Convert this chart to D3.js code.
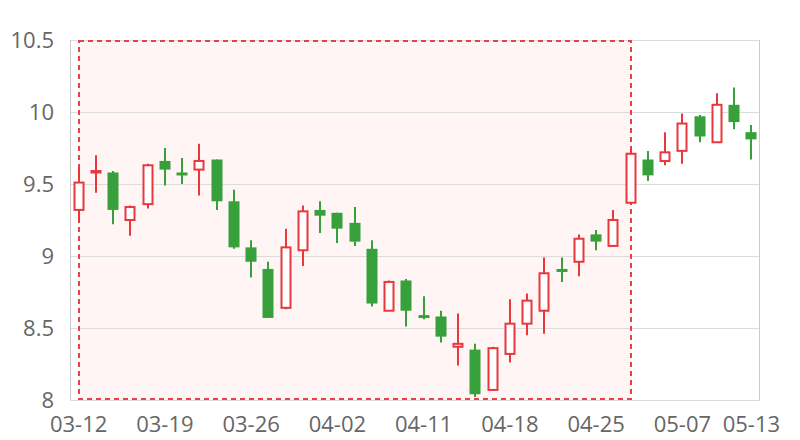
<!DOCTYPE html>
<html><head><meta charset="utf-8">
<script src="https://cdn.jsdelivr.net/npm/d3@7"></script>
<style>html,body{margin:0;padding:0;background:#fff;}svg{display:block;}</style>
</head><body>
<script>
const dates = ["03-12","03-13","03-14","03-15","03-16","03-19","03-20","03-21","03-22","03-23",
  "03-26","03-27","03-28","03-29","03-30","04-02","04-03","04-04","04-09","04-10",
  "04-11","04-12","04-13","04-16","04-17","04-18","04-19","04-20","04-23","04-24",
  "04-25","04-26","04-27","05-03","05-04","05-07","05-08","05-09","05-10","05-13"];
const openV  = [9.32,9.58,9.58,9.25,9.36,9.66,9.58,9.60,9.67,9.38,
  9.06,8.91,8.64,9.04,9.32,9.30,9.23,9.05,8.62,8.83,
  8.59,8.58,8.37,8.35,8.07,8.32,8.53,8.62,8.91,8.96,
  9.15,9.07,9.37,9.67,9.66,9.73,9.97,9.79,10.05,9.86];
const closeV = [9.51,9.59,9.32,9.34,9.63,9.60,9.57,9.66,9.38,9.06,
  8.96,8.57,9.06,9.31,9.28,9.19,9.10,8.67,8.82,8.62,
  8.58,8.44,8.39,8.04,8.36,8.53,8.69,8.88,8.90,9.12,
  9.10,9.25,9.71,9.56,9.72,9.92,9.83,10.05,9.93,9.81];
const lowV   = [9.24,9.44,9.22,9.14,9.33,9.49,9.50,9.42,9.32,9.05,
  8.85,8.57,8.63,8.93,9.16,9.09,9.07,8.65,8.62,8.51,
  8.56,8.40,8.24,8.02,8.07,8.26,8.45,8.46,8.82,8.86,
  9.04,9.07,9.36,9.52,9.63,9.64,9.79,9.79,9.88,9.67];
const highV  = [9.62,9.70,9.59,9.35,9.64,9.75,9.68,9.78,9.67,9.46,
  9.11,8.96,9.19,9.35,9.38,9.30,9.34,9.11,8.83,8.84,
  8.72,8.62,8.60,8.39,8.37,8.70,8.74,8.99,8.99,9.15,
  9.18,9.32,9.75,9.73,9.86,9.99,9.98,10.13,10.17,9.91];
const yTicks = [8,8.5,9,9.5,10,10.5];
const tickLabels = ["03-12","03-19","03-26","04-02","04-11","04-18","04-25","05-07","05-13"];
const markStart = "03-12", markEnd = "04-27";

(function () {
const W = 800, H = 440;
const pL = 70, pR = 760, pT = 40, pB = 400;
const svg = d3.select("body").append("svg").attr("width", W).attr("height", H);
const x = d3.scaleBand().domain(dates).range([pL, pR]).padding(0);
const y = d3.scaleLinear().domain([8, 10.5]).range([pB, pT]);
const cx = d => x(d) + x.bandwidth() / 2;
const font = "'Open Sans', 'Noto Sans', sans-serif";

const mx0 = Math.round(cx(markStart)), mx1 = Math.round(cx(markEnd));
svg.append("rect").attr("x", mx0).attr("y", pT).attr("width", mx1 - mx0).attr("height", pB - pT)
  .attr("fill", "#fff5f5");

svg.append("g").selectAll("line").data(yTicks).join("line")
  .attr("x1", pL).attr("x2", pR).attr("y1", d => y(d)).attr("y2", d => y(d))
  .attr("stroke", "#dcdcdc").attr("stroke-width", 1).attr("shape-rendering", "crispEdges");
svg.append("line").attr("x1", pL + 0.5).attr("x2", pL + 0.5).attr("y1", pT).attr("y2", pB)
  .attr("stroke", "#cccccc");
svg.append("line").attr("x1", pR - 0.5).attr("x2", pR - 0.5).attr("y1", pT).attr("y2", pB)
  .attr("stroke", "#cccccc");

svg.append("rect").attr("x", mx0).attr("y", pT + 1).attr("width", mx1 - mx0).attr("height", pB - pT - 2)
  .attr("fill", "none").attr("stroke", "#e64248").attr("stroke-width", 2).attr("stroke-dasharray", "5,4");

const yAxis = d3.axisLeft(y).tickValues(yTicks).tickSize(0).tickPadding(16).tickFormat(d3.format("~g"));
const gy = svg.append("g").attr("transform", `translate(${pL},0)`).call(yAxis);
gy.select(".domain").remove();
gy.selectAll("text").attr("font-family", font).attr("font-size", 22).attr("fill", "#666");

const xAxis = d3.axisBottom(x).tickValues(tickLabels).tickSize(0).tickPadding(16);
const gx = svg.append("g").attr("transform", `translate(0,${pB})`).call(xAxis);
gx.select(".domain").remove();
gx.selectAll("text").attr("font-family", font).attr("font-size", 22).attr("fill", "#666");

const RED = "#e8383d", GREEN = "#37a03a";
const data = dates.map((d, i) => ({ d, o: openV[i], c: closeV[i], l: lowV[i], h: highV[i] }));
const bw = 11;
const g = svg.append("g");
data.forEach(k => {
  const up = k.c >= k.o;
  const col = up ? RED : GREEN;
  const xc = Math.round(cx(k.d));
  const yTop = y(Math.max(k.o, k.c)), yBot = y(Math.min(k.o, k.c));
  g.append("line").attr("x1", xc).attr("x2", xc).attr("y1", y(k.h)).attr("y2", y(k.l))
    .attr("stroke", col).attr("stroke-width", 2);
  if (up) {
    g.append("rect").attr("x", xc - bw / 2 + 1).attr("y", yTop).attr("width", bw - 2)
      .attr("height", Math.max(yBot - yTop, 1)).attr("fill", "#fff").attr("stroke", col).attr("stroke-width", 2);
  } else {
    g.append("rect").attr("x", xc - bw / 2).attr("y", yTop).attr("width", bw)
      .attr("height", Math.max(yBot - yTop, 3)).attr("fill", col);
  }
});
})();
</script>
</body></html>
